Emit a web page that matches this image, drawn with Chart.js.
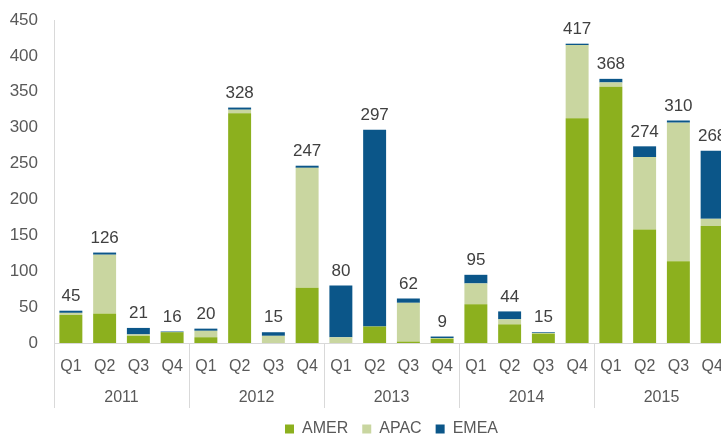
<!DOCTYPE html>
<html>
<head>
<meta charset="utf-8">
<script src="https://cdn.jsdelivr.net/npm/chart.js@4.4.0/dist/chart.umd.min.js"></script>
<style>
html,body{margin:0;padding:0;background:#fff;overflow:hidden;}
#wrap{position:relative;width:730px;height:440px;}
</style>
</head>
<body>
<div id="wrap"><canvas id="c"></canvas></div>
<script>
const quarters = ["Q1","Q2","Q3","Q4","Q1","Q2","Q3","Q4","Q1","Q2","Q3","Q4","Q1","Q2","Q3","Q4","Q1","Q2","Q3","Q4"];
const years = ["2011","2012","2013","2014","2015"];
const amer = [39,41,10,15, 8,320,0,77, 0,23,2,6, 54,26,13,313, 357,158,114,163];
const apac = [3,82,2,0, 9,5,10,167, 8,0,54,1, 29,7,1,102, 6,101,193,10];
const emea = [3,3,9,1, 3,3,5,3, 72,274,6,2, 12,11,1,2, 5,15,3,95];
const totals = [45,126,21,16, 20,328,15,247, 80,297,62,9, 95,44,15,417, 368,274,310,268];

const FONT = "'Liberation Sans', Arial, sans-serif";
const GRAY = "#595959";
const LINE = "#d9d9d9";

const extras = {
  id: 'extras',
  afterLayout(chart) {
    if (chart.legend) { chart.legend.left += 27; chart.legend.right += 27; }
  },
  afterDatasetsDraw(chart) {
    const ctx = chart.ctx, x = chart.scales.x, y = chart.scales.y;
    ctx.save();
    ctx.font = "17px " + FONT;
    ctx.fillStyle = "#404040";
    ctx.textAlign = "center";
    ctx.textBaseline = "bottom";
    totals.forEach((t, i) => {
      const top = y.getPixelForValue(amer[i] + apac[i] + emea[i]);
      ctx.fillText(String(t), x.getPixelForValue(i), top - 6);
    });
    ctx.restore();
  },
  afterDraw(chart) {
    const ctx = chart.ctx, x = chart.scales.x, area = chart.chartArea;
    const half = (x.getPixelForValue(1) - x.getPixelForValue(0)) / 2;
    ctx.save();
    ctx.strokeStyle = LINE;
    ctx.lineWidth = 1;
    for (let g = 0; g <= years.length; g++) {
      const px = Math.round(x.getPixelForValue(g * 4) - half) + 0.5;
      ctx.beginPath();
      ctx.moveTo(px, area.bottom);
      ctx.lineTo(px, area.bottom + 65);
      ctx.stroke();
    }
    ctx.font = "16px " + FONT;
    ctx.fillStyle = GRAY;
    ctx.textAlign = "center";
    ctx.textBaseline = "middle";
    years.forEach((yr, g) => {
      const l = x.getPixelForValue(g * 4) - half;
      const r = x.getPixelForValue(g * 4 + 3) + half;
      ctx.fillText(yr, (l + r) / 2, area.bottom + 55);
    });
    ctx.restore();
  }
};

new Chart(document.getElementById('c'), {
  type: 'bar',
  data: {
    labels: quarters,
    datasets: [
      {label: 'AMER', data: amer, backgroundColor: '#8CB01E'},
      {label: 'APAC', data: apac, backgroundColor: '#C9D6A0'},
      {label: 'EMEA', data: emea, backgroundColor: '#0B5689'}
    ]
  },
  options: {
    responsive: true,
    maintainAspectRatio: false,
    animation: false,
    layout: {padding: {top: 20, right: 1, left: 0, bottom: -7}},
    datasets: {bar: {categoryPercentage: 1, barPercentage: 0.68, borderWidth: 0}},
    plugins: {
      legend: {
        position: 'bottom',
        labels: {font: {family: FONT, size: 16}, color: GRAY, boxWidth: 9, boxHeight: 9, padding: 14}
      },
      tooltip: {enabled: false}
    },
    scales: {
      x: {
        stacked: true,
        grid: {display: false},
        border: {display: true, color: LINE},
        ticks: {font: {family: FONT, size: 16}, color: GRAY, padding: 6, maxRotation: 0, autoSkip: false},
        afterFit(s) { s.height = 64; }
      },
      y: {
        stacked: true,
        min: 0, max: 450,
        grid: {display: false},
        border: {display: true, color: LINE},
        ticks: {stepSize: 50, font: {family: FONT, size: 17}, color: GRAY, padding: 8},
        afterFit(s) { s.width = 54; }
      }
    }
  },
  plugins: [extras]
});
</script>
</body>
</html>
